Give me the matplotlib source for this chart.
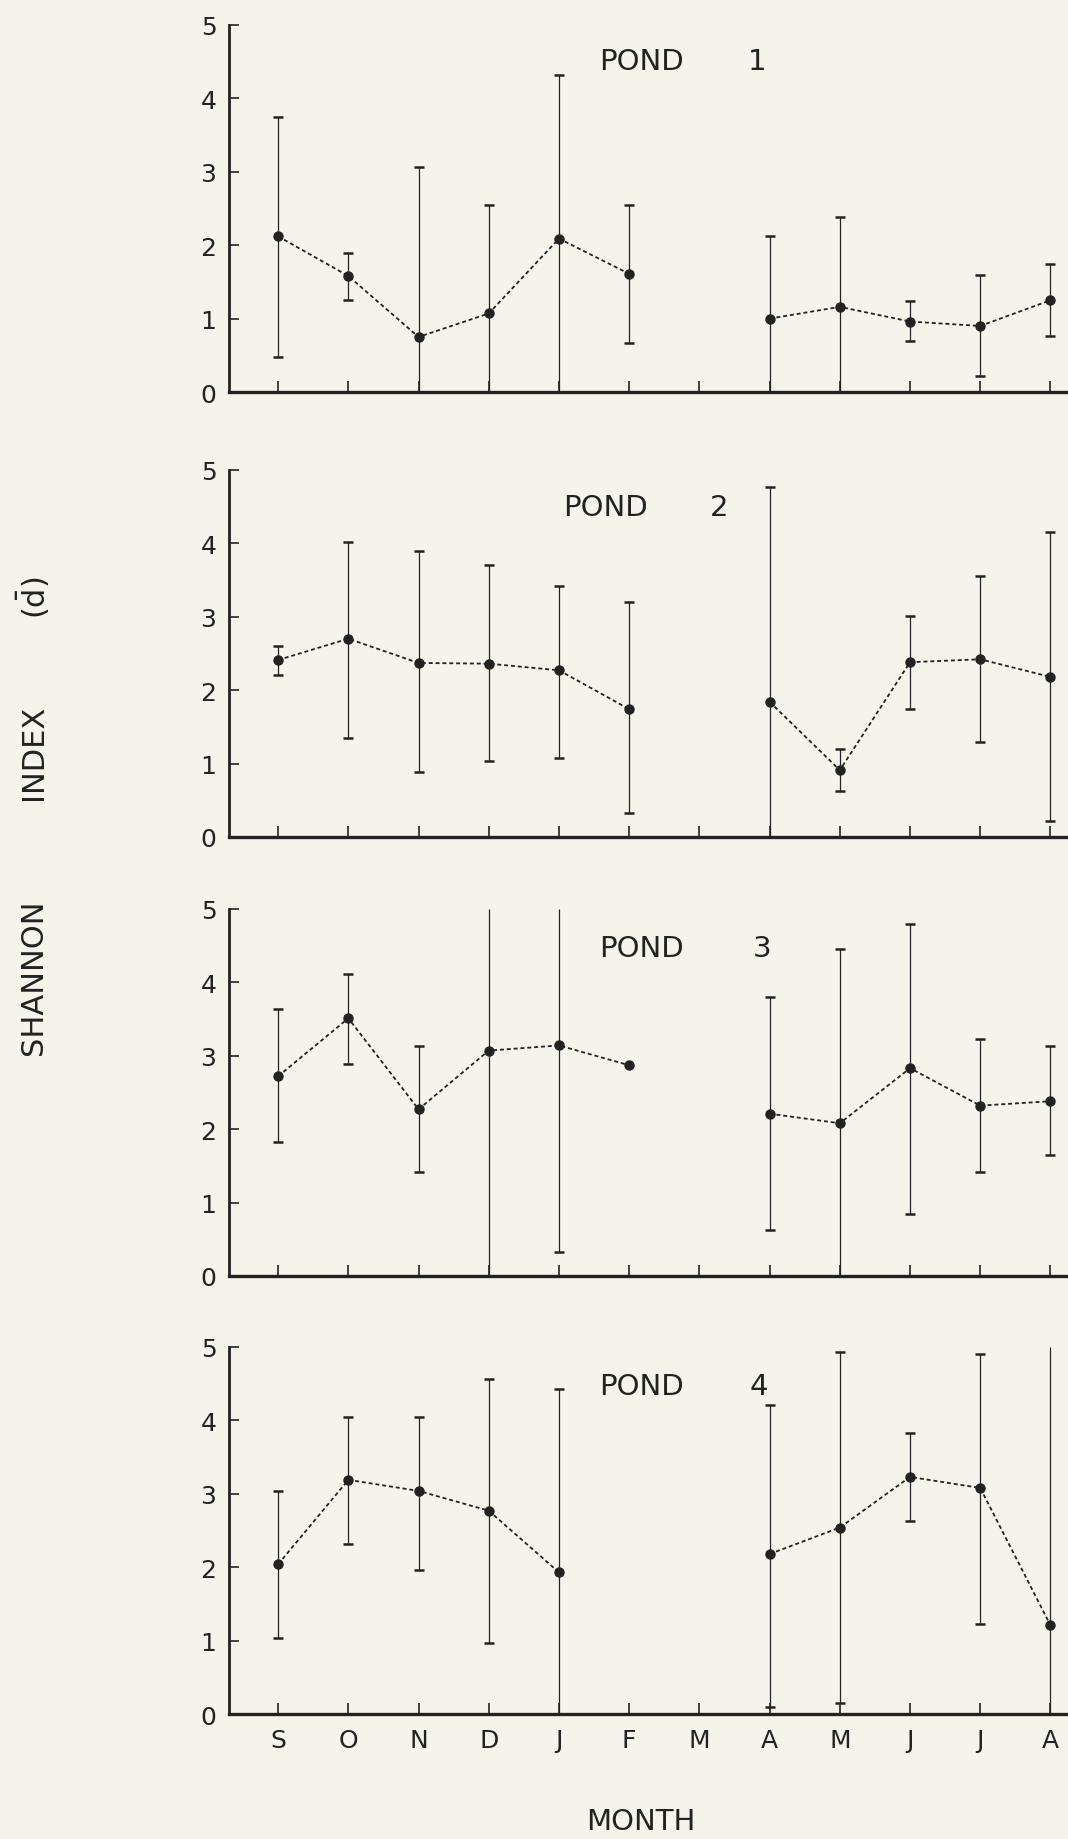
#!/usr/bin/env python
'''
Monthly Shannon diversity index (mean with range) for four ponds
'''

import numpy as np
import matplotlib.pyplot as plt

nan = np.nan

months = ['S', 'O', 'N', 'D', 'J', 'F', 'M', 'A', 'M', 'J', 'J', 'A']

# mean index and the low / high ends of the bar for each month (nan = no sample)
pond1_mean = [2.12, 1.58, 0.75, 1.07, 2.09, 1.61, nan, 1.00, 1.16, 0.96, 0.90, 1.25]
pond1_low = [0.48, 1.25, 0.00, 0.00, 0.00, 0.67, nan, 0.00, 0.00, 0.69, 0.22, 0.76]
pond1_high = [3.75, 1.90, 3.07, 2.55, 4.32, 2.55, nan, 2.13, 2.38, 1.24, 1.60, 1.75]

pond2_mean = [2.41, 2.70, 2.37, 2.36, 2.27, 1.74, nan, 1.84, 0.91, 2.38, 2.42, 2.18]
pond2_low = [2.20, 1.35, 0.89, 1.04, 1.07, 0.32, nan, 0.00, 0.62, 1.74, 1.29, 0.22]
pond2_high = [2.60, 4.02, 3.89, 3.71, 3.42, 3.20, nan, 4.76, 1.20, 3.01, 3.56, 4.16]

pond3_mean = [2.72, 3.51, 2.27, 3.07, 3.14, 2.87, nan, 2.21, 2.08, 2.83, 2.32, 2.38]
pond3_low = [1.82, 2.89, 1.42, 0.00, 0.33, nan, nan, 0.63, 0.00, 0.84, 1.42, 1.65]
pond3_high = [3.63, 4.11, 3.13, 5.00, 5.00, nan, nan, 3.80, 4.45, 4.79, 3.23, 3.13]

pond4_mean = [2.04, 3.19, 3.04, 2.77, 1.93, nan, nan, 2.18, 2.54, 3.23, 3.08, 1.21]
pond4_low = [1.03, 2.31, 1.96, 0.97, 0.00, nan, nan, 0.09, 0.15, 2.63, 1.22, 0.00]
pond4_high = [3.04, 4.05, 4.05, 4.56, 4.43, nan, nan, 4.21, 4.93, 3.83, 4.90, 5.00]

PAPER = '#f6f4ea'
INK = '#222222'
YMAX = 5.0


def plot_pond(ax, mean, low, high, number, title_pos, show_months):
    '''
        One panel: range bars, dashed line through the means
    '''
    x = np.arange(len(months))
    mean = np.array(mean, dtype=float)
    low = np.array(low, dtype=float)
    high = np.array(high, dtype=float)

    bar = ~np.isnan(low)
    ax.vlines(x[bar], low[bar], high[bar], color=INK, lw=0.9, zorder=2)

    # caps only where the bar ends inside the plot
    top = bar & (high < YMAX)
    bot = bar & (low > 0)
    ax.plot(x[top], high[top], ls='none', marker='_', ms=7, mew=1.8, color=INK, zorder=2)
    ax.plot(x[bot], low[bot], ls='none', marker='_', ms=7, mew=1.8, color=INK, zorder=2)

    ax.plot(x, mean, ls=(0, (2.2, 1.6)), lw=1.3, color=INK, zorder=3)
    ax.plot(x, mean, ls='none', marker='o', ms=6.5, color=INK, zorder=4)

    tx, nx, ty = title_pos
    ax.text(tx, ty, 'POND', ha='left', va='center', fontsize=21, color=INK)
    ax.text(nx, ty, str(number), ha='center', va='center', fontsize=21, color=INK)

    ax.set_xlim(-0.70, 11.25)
    ax.set_ylim(0, YMAX)
    ax.set_xticks(x)
    ax.set_yticks(range(6))
    if show_months:
        ax.set_xticklabels(months)
    else:
        ax.set_xticklabels([])

    ax.patch.set_visible(False)
    for side in ['top', 'right']:
        ax.spines[side].set_visible(False)
    ax.spines['left'].set_linewidth(2.0)
    ax.spines['bottom'].set_linewidth(2.4)
    ax.spines['left'].set_color(INK)
    ax.spines['bottom'].set_color(INK)

    ax.tick_params(axis='both', direction='in', colors=INK, labelsize=18, width=1.2)
    ax.tick_params(axis='x', length=8, pad=10)
    ax.tick_params(axis='y', length=7, pad=9)


def main():
    '''
        Main script
    '''
    plt.rcParams['font.family'] = ['DejaVu Sans']

    fig = plt.figure(figsize=(10.68, 18.4), dpi=100, facecolor=PAPER)

    ponds = [
        (pond1_mean, pond1_low, pond1_high, 1, (4.57, 6.82, 4.51), 0.7864),
        (pond2_mean, pond2_low, pond2_high, 2, (4.06, 6.28, 4.49), 0.5446),
        (pond3_mean, pond3_low, pond3_high, 3, (4.57, 6.89, 4.47), 0.3060),
        (pond4_mean, pond4_low, pond4_high, 4, (4.57, 6.84, 4.47), 0.0679),
    ]

    for i, (mean, low, high, number, title_pos, bottom) in enumerate(ponds):
        ax = fig.add_axes([0.2144, bottom, 1 - 0.2144, 0.1995])
        plot_pond(ax, mean, low, high, number, title_pos, show_months=(i == 3))

    # y label is spaced out along the left margin
    fig.text(0.031, 0.469, 'SHANNON', rotation=90, ha='center', va='center', fontsize=22, color=INK)
    fig.text(0.031, 0.591, 'INDEX', rotation=90, ha='center', va='center', fontsize=22, color=INK)
    fig.text(0.031, 0.675, r'$(\bar{\mathrm{d}})$', rotation=90, ha='center', va='center',
             fontsize=22, color=INK)

    fig.text(0.600, 0.0098, 'MONTH', ha='center', va='center', fontsize=21, color=INK)

    fig.savefig('out.png', dpi=100, facecolor=PAPER)
    plt.close(fig)


if __name__ == '__main__':
    main()
